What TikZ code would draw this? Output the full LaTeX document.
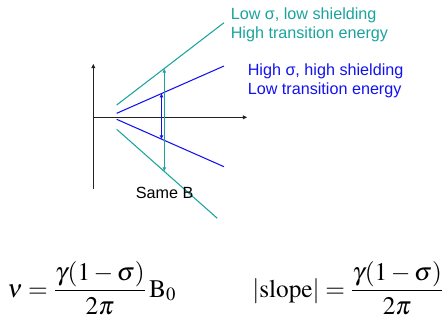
\documentclass[tikz,border=0pt]{standalone}
\usepackage{amsmath}
\usepackage{mathptmx}
\usepackage[no-math]{fontspec}
\setsansfont{Liberation Sans}
\usepackage{tikz}
\usetikzlibrary{arrows.meta, positioning}
\definecolor{lineteal}{HTML}{1AA39D}
\definecolor{lineblue}{HTML}{1212F0}
\definecolor{axisgray}{HTML}{222222}

\begin{document}
\begin{tikzpicture}[x=0.025cm, y=-0.025cm,
  ax/.style={-{Triangle[length=3pt, width=2.8pt]}, axisgray, line width=0.6pt},
  ln/.style={line width=0.75pt},
  gap/.style={{Triangle[length=2.6pt, width=2.4pt]}-{Triangle[length=2.6pt, width=2.4pt]}, line width=0.75pt},
  lbl/.style={font=\fontsize{11.5}{13.5}\selectfont\sffamily, align=left, anchor=west, inner sep=0pt},
  eq/.style={font=\fontsize{18}{22}\selectfont, anchor=west, inner sep=0pt},
]
  \useasboundingbox (0,0) rectangle (448,325);

  % axes
  \coordinate (o)  at (93.3,117.3);
  \coordinate (yt) at (93.3,64);
  \coordinate (yb) at (93.3,189);
  \coordinate (xt) at (247,117.3);
  \draw[ax] (yb) -- (yt);
  \draw[ax] (o) -- (xt);

  % energy lines
  \coordinate (t1a) at (116.7,105);   \coordinate (t1b) at (224,22.7);
  \coordinate (b1a) at (116.7,113.3); \coordinate (b1b) at (224,66);
  \coordinate (b2a) at (116.7,119.3); \coordinate (b2b) at (224,166.7);
  \coordinate (t2a) at (116.7,129.3); \coordinate (t2b) at (217.3,218.3);
  \draw[ln, lineteal] (t1a) -- (t1b);
  \draw[ln, lineblue] (b1a) -- (b1b);
  \draw[ln, lineblue] (b2a) -- (b2b);
  \draw[ln, lineteal] (t2a) -- (t2b);

  % transition gaps
  \coordinate (tg1) at (164.3,69);  \coordinate (tg2) at (164.3,171);
  \coordinate (bg1) at (161.5,93.6); \coordinate (bg2) at (161.5,139);
  \draw[gap, lineteal] (tg1) -- (tg2);
  \draw[gap, lineblue] (bg1) -- (bg2);

  \node[lbl, anchor=center] (same) at (164.7,192.7) {Same B};

  \node[lbl, lineteal] (low)  at (230.5,24.5) {Low σ, low shielding\\High transition energy};
  \node[lbl, lineblue] (high) at (247.5,81.2) {High σ, high shielding\\Low transition energy};

  \node[eq] (nu)    at (7,288)   {$\nu=\dfrac{\gamma(1-\sigma)}{2\pi}\,\mathrm{B}_0$};
  \node[eq] (slope) at (252,288) {$\left|\mathrm{slope}\right|=\dfrac{\gamma(1-\sigma)}{2\pi}$};
\end{tikzpicture}
\end{document}
